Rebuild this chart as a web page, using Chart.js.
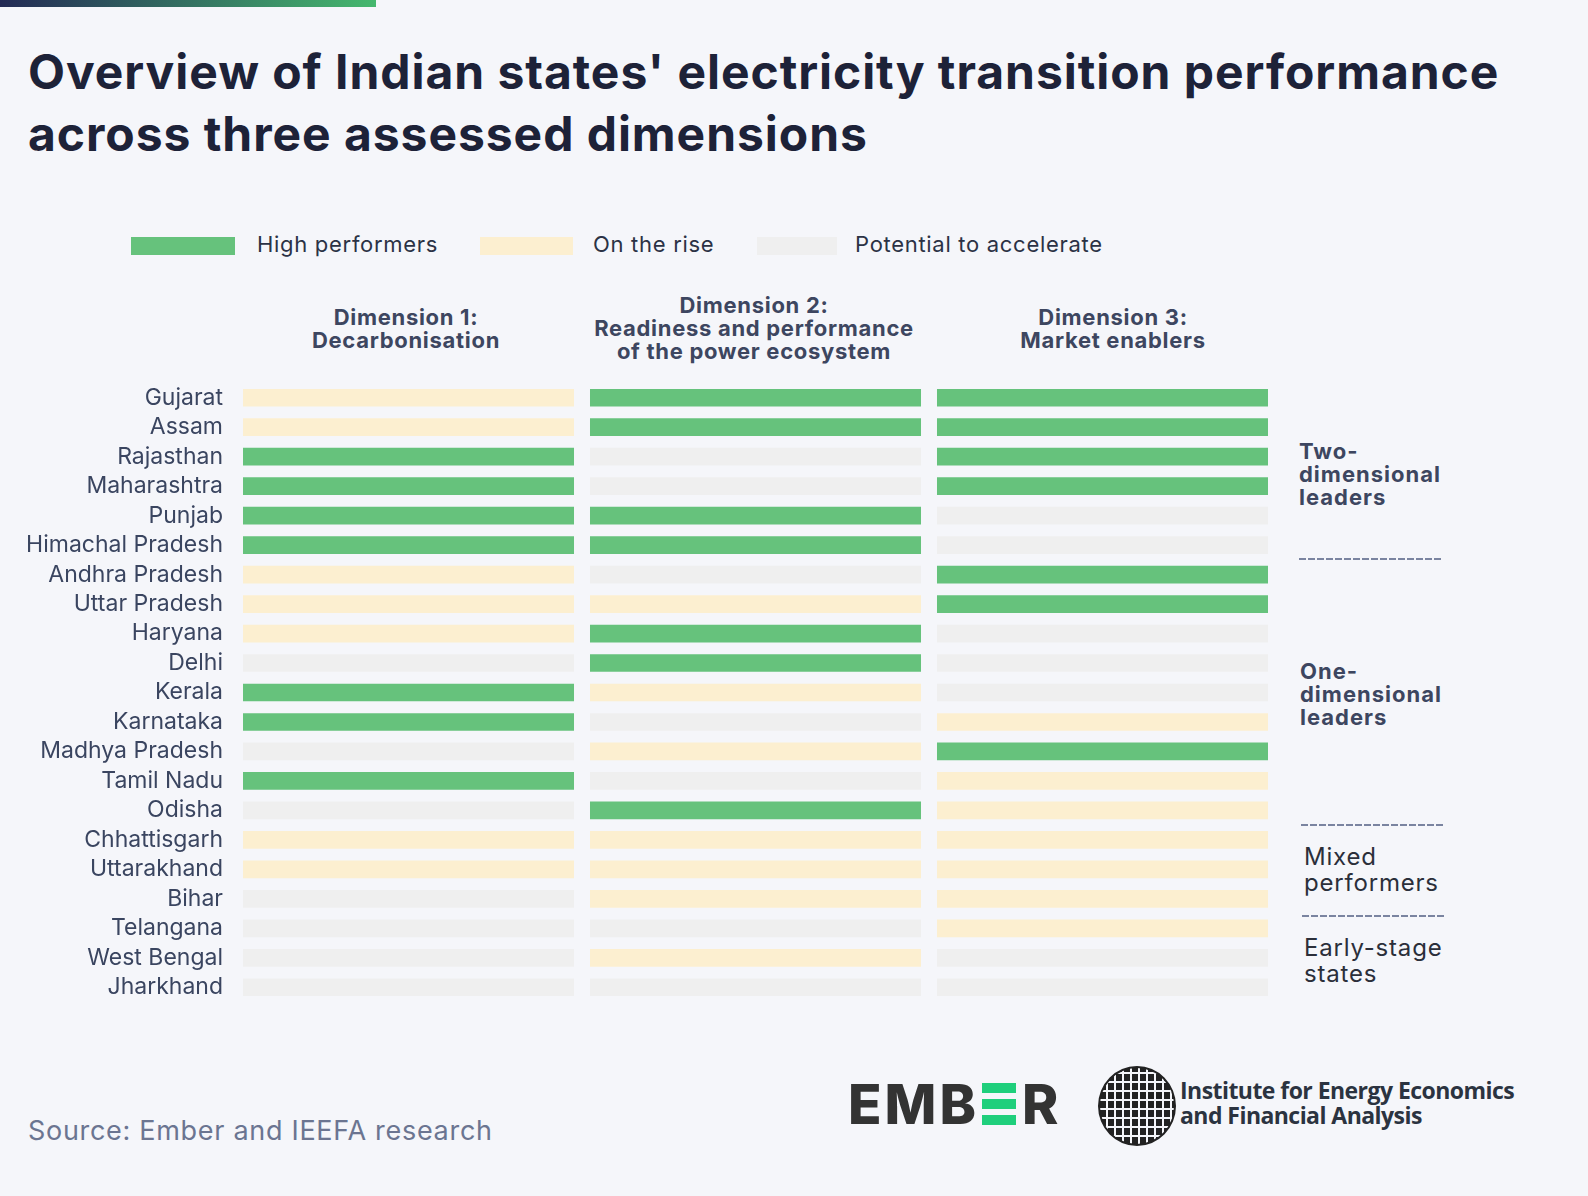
<!DOCTYPE html>
<html>
<head>
<meta charset="utf-8">
<script src="https://cdn.jsdelivr.net/npm/chart.js@4/dist/chart.umd.min.js"></script>
<style>
  html, body { margin: 0; padding: 0; }
  body { width: 1588px; height: 1196px; background: #f5f6fa; position: relative; overflow: hidden; font-family: Inter, "Noto Sans", sans-serif; }
  .topbar { position: absolute; left: 0; top: 0; width: 376px; height: 7px; background: linear-gradient(90deg, #232a55, #45b86e); }
  h1 { position: absolute; left: 28px; top: 41px; margin: 0; font-size: 48px; line-height: 62px; font-weight: 700; color: #1d2238; letter-spacing: 0.95px; white-space: nowrap; }
  .legend { position: absolute; top: 231px; left: 0; font-size: 22px; color: #2b3245; letter-spacing: 0.7px; }
  .legend .sw { position: absolute; top: 6px; height: 18px; }
  .legend .lb { position: absolute; top: 0; white-space: nowrap; }
  .hdr { position: absolute; font-weight: 700; font-size: 22px; line-height: 23px; color: #3d4660; text-align: center; white-space: nowrap; transform: translateX(-50%); letter-spacing: 0.7px; }
  .side { position: absolute; font-size: 22px; line-height: 23px; color: #3d4660; font-weight: 700; letter-spacing: 1px; }
  .side.reg { font-weight: 400; font-size: 24px; line-height: 26px; color: #2b2f3a; letter-spacing: 0.8px; }
  .dash { position: absolute; width: 143px; height: 2px; background: repeating-linear-gradient(90deg, #7a84a0 0 7px, transparent 7px 9px); }
  #wrap { position: absolute; left: 25px; top: 383px; width: 1243px; height: 619px; }
  .source { position: absolute; left: 28px; top: 1114px; font-size: 27px; color: #6b7591; letter-spacing: 0.7px; }
  .ember { position: absolute; left: 848px; top: 1074px; font-size: 55px; font-weight: 800; color: #333; letter-spacing: 3px; line-height: 60px; display: flex; align-items: center; }
  .ember .e { display: inline-block; width: 34px; height: 42px; margin: 0 6px 0 3px; position: relative; }
  .ember .e i { position: absolute; left: 0; width: 34px; height: 10px; background: #1fcf7c; }
  .globe { position: absolute; left: 1098px; top: 1066px; width: 74px; height: 76px; border-radius: 50%; border: 2px solid #222; overflow: hidden;
    background: repeating-linear-gradient(90deg, #222 0 6px, #f5f6fa 6px 8px); }
  .globe::after { content: ""; position: absolute; inset: 0; background: repeating-linear-gradient(0deg, transparent 0 7px, #f5f6fa 7px 9px); }
  .ieefa { position: absolute; left: 1180px; top: 1078px; font-family: "Open Sans", sans-serif; font-weight: 700; font-size: 23px; line-height: 25px; color: #2b3340; letter-spacing: -0.55px; white-space: nowrap; }
</style>
</head>
<body>
<div class="topbar"></div>
<h1>Overview of Indian states' electricity transition performance<br>across three assessed dimensions</h1>

<div class="legend">
  <div class="sw" style="left:131px;width:104px;background:#66c27c"></div><div class="lb" style="left:257px">High performers</div>
  <div class="sw" style="left:480px;width:93px;background:#fcefd0"></div><div class="lb" style="left:593px">On the rise</div>
  <div class="sw" style="left:757px;width:80px;background:#efefef"></div><div class="lb" style="left:855px">Potential to accelerate</div>
</div>

<div class="hdr" style="left:406px;top:306px">Dimension 1:<br>Decarbonisation</div>
<div class="hdr" style="left:754px;top:294px">Dimension 2:<br>Readiness and performance<br>of the power ecosystem</div>
<div class="hdr" style="left:1113px;top:306px">Dimension 3:<br>Market enablers</div>

<div id="wrap"><canvas id="chart"></canvas></div>

<div class="side" style="left:1299px;top:440px">Two-<br>dimensional<br>leaders</div>
<div class="dash" style="left:1299px;top:558px"></div>
<div class="side" style="left:1300px;top:660px">One-<br>dimensional<br>leaders</div>
<div class="dash" style="left:1301px;top:824px"></div>
<div class="side reg" style="left:1304px;top:844px">Mixed<br>performers</div>
<div class="dash" style="left:1302px;top:915px"></div>
<div class="side reg" style="left:1304px;top:935px">Early-stage<br>states</div>

<div class="source">Source: Ember and IEEFA research</div>
<div class="ember">EMB<span class="e"><i style="top:0"></i><i style="top:16px"></i><i style="top:32px"></i></span>R</div>
<div class="globe"></div>
<div class="ieefa">Institute for Energy Economics<br>and Financial Analysis</div>

<script>
// 州とカテゴリ
const states = ['Gujarat', 'Assam', 'Rajasthan', 'Maharashtra', 'Punjab', 'Himachal Pradesh',
  'Andhra Pradesh', 'Uttar Pradesh', 'Haryana', 'Delhi', 'Kerala', 'Karnataka', 'Madhya Pradesh',
  'Tamil Nadu', 'Odisha', 'Chhattisgarh', 'Uttarakhand', 'Bihar', 'Telangana', 'West Bengal', 'Jharkhand'];
const dimensions = ['Decarbonisation', 'Readiness and performance of the power ecosystem', 'Market enablers'];

// H = High performers, R = On the rise, P = Potential to accelerate
const dim1 = ['R','R','H','H','H','H','R','R','R','P','H','H','P','H','P','R','R','P','P','P','P'];
const dim2 = ['H','H','P','P','H','H','P','R','H','H','R','P','R','P','H','R','R','R','P','R','P'];
const dim3 = ['H','H','H','H','P','P','H','H','P','P','P','R','H','R','R','R','R','R','R','P','P'];

const statusColors = { H: '#66c27c', R: '#fcefd0', P: '#efefef' };

// 各列の位置 (x軸の単位)
const gap = 0.0483;
const colStarts = [0, 1 + gap, 2 + 2 * gap];
const statuses = [dim1, dim2, dim3];

const datasets = statuses.map((s, i) => ({
  label: dimensions[i],
  data: states.map(() => [colStarts[i], colStarts[i] + 1]),
  backgroundColor: ctx => statusColors[s[ctx.dataIndex]],
  borderWidth: 0,
  grouped: false,
  barPercentage: 0.6,
  categoryPercentage: 1
}));

new Chart(document.getElementById('chart'), {
  type: 'bar',
  data: { labels: states, datasets: datasets },
  options: {
    indexAxis: 'y',
    responsive: true,
    maintainAspectRatio: false,
    animation: false,
    layout: { padding: 0 },
    plugins: { legend: { display: false }, tooltip: { enabled: false } },
    scales: {
      x: { display: false, min: 0, max: 3 + 2 * gap },
      y: {
        grid: { display: false, drawTicks: false },
        border: { display: false },
        ticks: { autoSkip: false, padding: 20, color: '#3a4560', font: { family: 'Inter', size: 23 } },
        afterFit: scale => {
          scale.width = 218;
          scale.paddingTop = 0;
          scale.paddingBottom = 0;
        }
      }
    }
  }
});
</script>
</body>
</html>
